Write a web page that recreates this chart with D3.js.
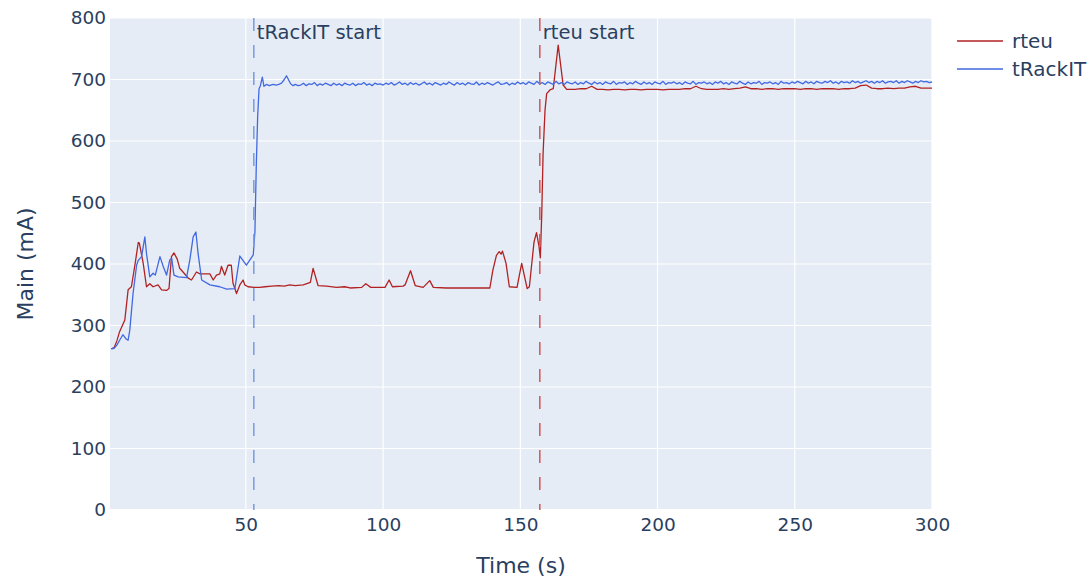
<!DOCTYPE html>
<html>
<head>
<meta charset="utf-8">
<script src="https://cdn.jsdelivr.net/npm/d3@7"></script>
<style>
  body { margin: 0; background: #fff; }
  text { font-family: "DejaVu Sans", Verdana, sans-serif; fill: #2a3f5f; }
</style>
</head>
<body>
<div id="chart"></div>
<script>
// rteu: irregular part (time, mA) then plateau sampled every 2 s
var rteuPoints = [
  [1,262],[2,264],[3,275],[4,290],[5.9,309],[7.1,358],[8.3,363],[9.5,396],[10.8,435],[11.2,434],
  [12.6,401],[13.8,363],[15,368],[16.2,363],[18,366],[19.3,358],[21.1,357],[22,360],[22.9,412],
  [23.8,418],[25,408],[25.9,393],[27.5,385],[29,377],[30.2,374],[32,387],[33.3,384],[35.1,384],
  [36.9,384],[38.1,374],[39.3,382],[40.5,384],[41.1,396],[42.3,382],[43.5,398],[44.7,398],
  [45.3,369],[46.6,352],[47.8,366],[49,374],[49.6,366],[50.8,363],[53,362],[55,362],[57,363],
  [59.4,364],[62,365],[64,364],[66,366],[68,365],[70.9,366],[73.5,370],[74.5,393],[76.3,365],
  [79.4,364],[83,362],[86,363],[88,361],[92.2,362],[93.7,368],[95.5,362],[100.7,362],[102.2,374],
  [103.4,363],[107.3,364],[108,366],[110,389],[111.7,365],[114.6,362],[117,373],[118.3,362],
  [123,361],[130,361],[138.9,361],[140,390],[141.3,414],[142.3,420],[143,416],[143.5,421],
  [144.8,401],[146,363],[148.8,362],[150.5,401],[152.5,360],[153.3,363],[155,436],[155.9,451],
  [156.8,429],[157.3,410],[157.8,480],[158.3,580],[159,650],[159.6,677],[160.8,683],[162,685],
  [163.8,756],[165.6,691],[166.9,684]
];
var rteuPlateauStart = 168, rteuPlateauStep = 2;
var rteuPlateau = [
  684,684,685,685,689,684,684,683,684,684,   // 168-186
  683,684,684,683,684,684,684,683,684,684,   // 188-206
  684,685,685,689,685,684,684,684,685,684,   // 208-226
  685,686,688,685,685,684,685,685,684,685,   // 228-246
  685,685,684,685,685,684,685,685,685,684,   // 248-266
  685,685,686,690,691,686,685,685,686,685,   // 268-286
  686,686,688,689,686,686,686                // 288-300
];

// tRackIT: irregular part then plateau sampled every 1 s
var trackitPoints = [
  [1,262],[2,263],[3,268],[4,276],[5.2,285],[6.4,278],[7.1,276],[7.7,292],[8.9,352],[10.2,398],
  [10.8,406],[12,412],[13.2,444],[13.8,417],[15,379],[16.2,385],[17,382],[18.7,412],[19.9,396],
  [21.1,382],[22.3,407],[23,409],[23.8,382],[25.3,379],[28.4,378],[29.6,407],[30.8,444],
  [31.8,452],[32.6,417],[33.9,374],[36.9,366],[40.5,363],[43,359],[46,360],[47.8,413],[50.2,398],
  [52.7,415],[53.3,452],[53.8,560],[54.3,640],[54.8,685],[55.3,690],[56,704],[56.6,689],
  [57.5,692],[58.5,690],[60,692],[61,691],[62,692],[63,694],[64,700],[64.8,706],[65.5,700],
  [66.3,693],[67.2,690],[68,692],[69,690]
];
var trackitPlateauStart = 70, trackitPlateauStep = 1;
var trackitPlateau = [
  691,694,690,693,692,695,690,693,691,694,  // 70
  692,690,694,691,693,690,694,692,691,694,  // 80
  690,693,692,695,691,693,690,694,692,693,  // 90
  691,694,692,695,691,693,696,692,694,691,  // 100
  695,692,694,691,693,696,692,694,691,695,  // 110
  693,691,694,692,696,693,691,695,692,694,  // 120
  691,695,693,692,696,691,694,692,695,693,  // 130
  691,694,696,692,693,695,691,694,692,696,  // 140
  693,695,692,696,694,692,697,693,695,692,  // 150
  696,694,692,697,693,695,692,696,694,693,  // 160
  696,692,695,693,697,694,692,696,693,695,  // 170
  692,696,694,693,697,692,695,694,696,692,  // 180
  695,693,697,694,692,696,693,695,692,696,  // 190
  694,693,697,692,695,694,696,693,695,692,  // 200
  696,694,693,697,692,695,694,696,693,695,  // 210
  692,696,694,697,693,695,692,696,694,693,  // 220
  697,694,692,696,693,695,694,697,692,695,  // 230
  694,696,693,695,692,697,694,695,693,696,  // 240
  694,697,695,693,697,694,696,693,697,695,  // 250
  694,697,695,698,694,696,693,697,695,696,  // 260
  694,698,695,697,694,696,698,695,697,694,  // 270
  697,695,698,694,696,697,695,698,694,697,  // 280
  695,698,696,694,697,695,698,696,697,695,  // 290
  696                                       // 300
];

var seriesNames = ["rteu", "tRackIT"];
var seriesColors = ["#b22222", "#4169e1"];
var startNames = ["tRackIT start", "rteu start"];
var startTimes = [52.9, 157.1];
var startColors = ["#7f9ee0", "#d26060"];
var xTicks = [50, 100, 150, 200, 250, 300];
var yTicks = [0, 100, 200, 300, 400, 500, 600, 700, 800];

var w = 1090, h = 578
    , marginTop = 18, marginLeft = 110, plotRight = 932, plotBottom = 510
    , contentsWidth = plotRight - marginLeft, contentsHeight = plotBottom - marginTop;

function withPlateau(points, start, step, values) {
  var out = points.slice();
  values.forEach(function(v, i) { out.push([start + i * step, v]); });
  return out;
}

var data = [
  withPlateau(rteuPoints, rteuPlateauStart, rteuPlateauStep, rteuPlateau),
  withPlateau(trackitPoints, trackitPlateauStart, trackitPlateauStep, trackitPlateau)
];

var svg = d3.select("div#chart")
    .append("svg")
    .attr("width", w)
    .attr("height", h);

svg.append("rect").attr("width", w).attr("height", h).attr("fill", "#fff");

var chartG = svg.append("g")
    .attr("transform", "translate(" + marginLeft + ", " + marginTop + ")");

var xScale = d3.scaleLinear().domain([0.5, 300]).range([0, contentsWidth]);
var yScale = d3.scaleLinear().domain([0, 800]).range([contentsHeight, 0]);

chartG.append("rect")
    .attr("width", contentsWidth)
    .attr("height", contentsHeight)
    .attr("fill", "#e5ecf6");

// grid
chartG.append("g").selectAll("line")
    .data(xTicks)
    .enter().append("line")
    .attr("x1", function(d) { return xScale(d); })
    .attr("x2", function(d) { return xScale(d); })
    .attr("y1", 0).attr("y2", contentsHeight)
    .attr("stroke", "#fff").attr("stroke-width", 1.2);

chartG.append("g").selectAll("line")
    .data(yTicks)
    .enter().append("line")
    .attr("x1", 0).attr("x2", contentsWidth)
    .attr("y1", function(d) { return yScale(d); })
    .attr("y2", function(d) { return yScale(d); })
    .attr("stroke", "#fff")
    .attr("stroke-width", function(d) { return d == 0 ? 2 : 1.2; });

// axes (labels only)
var xAxis = d3.axisBottom(xScale).tickValues(xTicks).tickSize(0).tickPadding(8);
var yAxis = d3.axisLeft(yScale).tickValues(yTicks).tickSize(0).tickPadding(4);

var gx = chartG.append("g")
    .attr("transform", "translate(0, " + contentsHeight + ")")
    .call(xAxis);
var gy = chartG.append("g").call(yAxis);
[gx, gy].forEach(function(g) {
  g.select(".domain").remove();
  g.selectAll("text")
    .style("font-family", "'DejaVu Sans', Verdana, sans-serif")
    .style("font-size", "18.5px")
    .attr("fill", "#2a3f5f");
});

svg.append("text")
    .attr("x", marginLeft + contentsWidth / 2)
    .attr("y", 573)
    .attr("text-anchor", "middle")
    .style("font-size", "22px")
    .text("Time (s)");

svg.append("text")
    .attr("transform", "translate(33, " + (marginTop + contentsHeight / 2) + ") rotate(-90)")
    .attr("text-anchor", "middle")
    .style("font-size", "22px")
    .text("Main (mA)");

// series
svg.append("clipPath").attr("id", "plotClip")
    .append("rect").attr("width", contentsWidth).attr("height", contentsHeight);

var line = d3.line()
    .x(function(d) { return xScale(d[0]); })
    .y(function(d) { return yScale(d[1]); });

chartG.append("g")
    .attr("clip-path", "url(#plotClip)")
    .selectAll("path")
    .data(data)
    .enter().append("path")
    .attr("d", line)
    .attr("fill", "none")
    .attr("stroke", function(d, i) { return seriesColors[i]; })
    .attr("stroke-width", 1.3)
    .attr("stroke-linejoin", "round");

// start markers
var marks = chartG.append("g").selectAll("g")
    .data(startTimes)
    .enter().append("g");

marks.append("line")
    .attr("x1", function(d) { return xScale(d); })
    .attr("x2", function(d) { return xScale(d); })
    .attr("y1", 0).attr("y2", contentsHeight)
    .attr("stroke", function(d, i) { return startColors[i]; })
    .attr("stroke-width", 1.6)
    .attr("stroke-dasharray", "13,14");

marks.append("text")
    .attr("x", function(d) { return xScale(d) + 3; })
    .attr("y", 21)
    .style("font-size", "19.5px")
    .text(function(d, i) { return startNames[i]; });

// legend
var legend = svg.append("g").selectAll("g")
    .data(seriesNames)
    .enter().append("g")
    .attr("transform", function(d, i) { return "translate(957, " + (41 + i * 28) + ")"; });

legend.append("line")
    .attr("x1", 0).attr("x2", 46)
    .attr("stroke", function(d, i) { return seriesColors[i]; })
    .attr("stroke-width", 1.3);

legend.append("text")
    .attr("x", 55)
    .attr("y", 7)
    .style("font-size", "20px")
    .text(function(d) { return d; });
</script>
</body>
</html>
